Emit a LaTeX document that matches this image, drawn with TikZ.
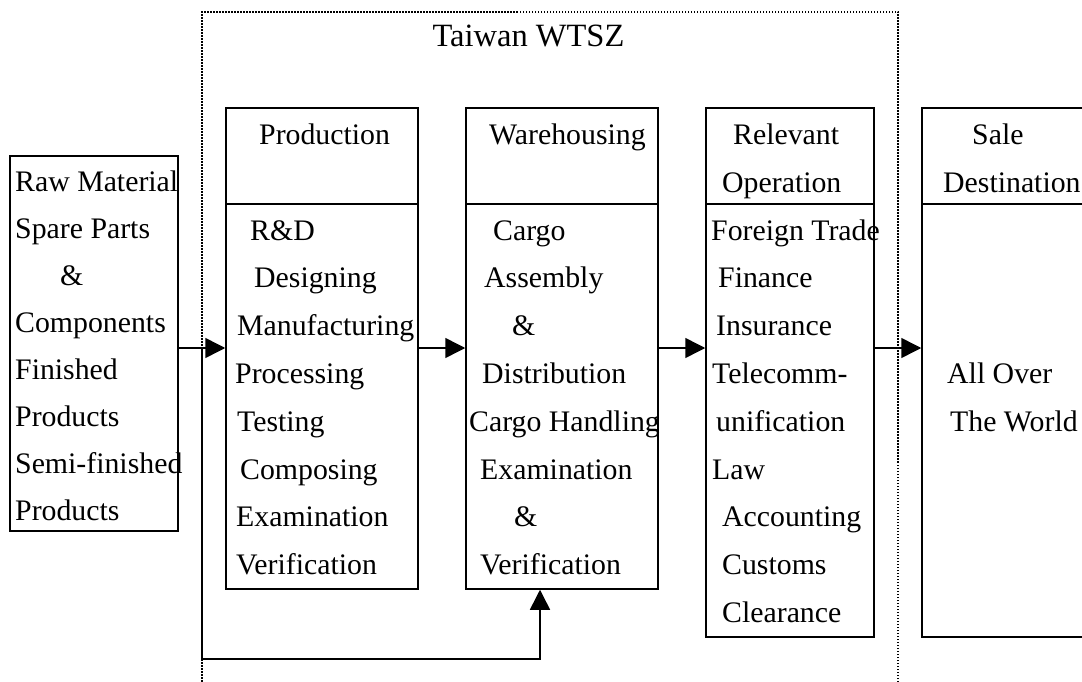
\documentclass[tikz,border=0pt]{standalone}
\usepackage{fontspec}
\setmainfont{Liberation Serif}
\usetikzlibrary{arrows.meta}
\begin{document}
\begin{tikzpicture}[x=1pt,y=-1pt,
  box/.style={draw,line width=1.5pt,rectangle,inner sep=0pt},
  lbl/.style={anchor=base west,inner sep=0pt,font=\fontsize{29.8}{36}\selectfont},
  flow/.style={line width=1.5pt,-{Triangle[length=20pt,width=20pt]}},
  zone/.style={draw,line width=1.3pt,dash pattern=on 1.5pt off 1.5pt,rectangle,inner sep=0pt}]
\useasboundingbox (0,0) rectangle (1082,682);
\clip (0,0) rectangle (1082,682);
% zone
\node[zone,minimum width=696pt,minimum height=688pt] (wtsz) at (550,356) {};
\node[lbl,anchor=base,font=\fontsize{32.5}{38}\selectfont] (title) at (528.5,47) {Taiwan WTSZ};
% boxes
\node[box,minimum width=168pt,minimum height=375pt] (src) at (94,343.5) {};
\node[box,minimum width=192pt,minimum height=481pt] (prod) at (322,348.5) {};
\node[box,minimum width=192pt,minimum height=481pt] (ware) at (562,348.5) {};
\node[box,minimum width=168pt,minimum height=529pt] (rel) at (790,372.5) {};
\node[box,minimum width=178pt,minimum height=529pt] (sale) at (1011,372.5) {};
\foreach \b in {prod,ware,rel,sale}
  \draw[line width=1.5pt] (\b.west |- 0,204) -- (\b.east |- 0,204);
% texts
\foreach \x/\k/\t [count=\i] in {15/1/Raw Material,15/2/Spare Parts,60/3/\&,15/4/Components,15/5/Finished,15/6/Products,15/7/Semi-finished,15/8/Products}
  \node[lbl] (s\i) at (\x,192+46.9*\k-46.9) {\t};
\foreach \x/\k/\t [count=\i] in {259/0/Production,250/2/R\&D,254/3/Designing,237/4/Manufacturing,235/5/Processing,237/6/Testing,240/7/Composing,236/8/Examination,236/9/Verification}
  \node[lbl] (p\i) at (\x,144.5+47.8*\k) {\t};
\foreach \x/\k/\t [count=\i] in {489/0/Warehousing,493/2/Cargo,484/3/Assembly,512/4/\&,482/5/Distribution,469/6/Cargo Handling,480/7/Examination,514/8/\&,480/9/Verification}
  \node[lbl] (w\i) at (\x,144.5+47.8*\k) {\t};
\foreach \x/\k/\t [count=\i] in {733/0/Relevant,722/1/Operation,711/2/Foreign Trade,718/3/Finance,716/4/Insurance,712/5/Telecomm-,716/6/unification,712/7/Law,722/8/Accounting,722/9/Customs,722/10/Clearance}
  \node[lbl] (r\i) at (\x,144.5+47.8*\k) {\t};
\foreach \x/\k/\t [count=\i] in {972/0/Sale,943/1/Destination,947/5/All Over,950/6/The World}
  \node[lbl] (d\i) at (\x,144.5+47.8*\k) {\t};
% connectors
\draw[flow] (src.east |- 0,348) -- (prod.west |- 0,348);
\draw[flow] (prod.east |- 0,348) -- (ware.west |- 0,348);
\draw[flow] (ware.east |- 0,348) -- (rel.west |- 0,348);
\draw[flow] (rel.east |- 0,348) -- (sale.west |- 0,348);
\coordinate (split) at (202,348);
\coordinate (ret) at (540,659);
\draw[flow] (split) |- (ret) -- (ret |- ware.south);
\end{tikzpicture}
\end{document}
